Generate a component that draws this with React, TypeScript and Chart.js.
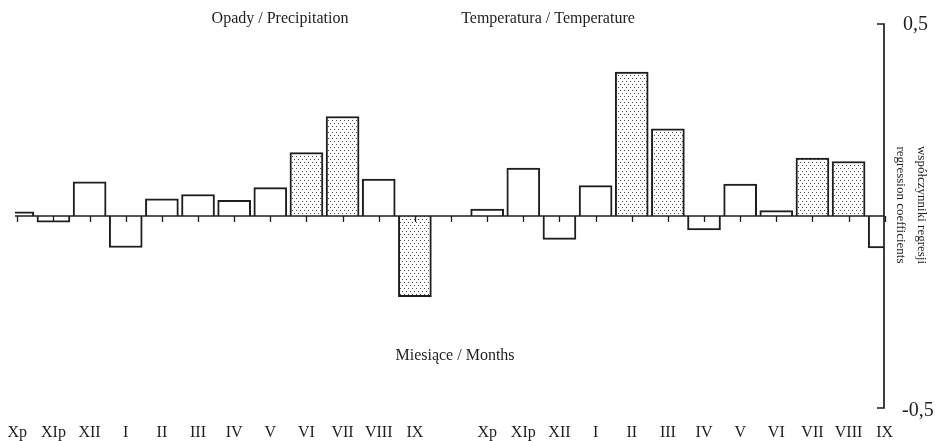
import React, { useEffect, useRef } from 'react';
import { Chart, registerables } from 'chart.js';

Chart.register(...registerables);

// ---- data ----
const months = ['Xp', 'XIp', 'XII', 'I', 'II', 'III', 'IV', 'V', 'VI', 'VII', 'VIII', 'IX'];
const precipValues = [0.011, -0.016, 0.089, -0.082, 0.045, 0.056, 0.041, 0.074, 0.165, 0.259, 0.096, -0.21];
const precipSignificant = [false, false, false, false, false, false, false, false, true, true, false, true];
const tempValues = [0.018, 0.125, -0.061, 0.079, 0.375, 0.227, -0.036, 0.083, 0.014, 0.151, 0.142, -0.083];
const tempSignificant = [false, false, false, false, true, true, false, false, false, true, true, false];
const yTickValues = [0.5, -0.5];
const yTickLabels = ['0,5', '-0,5'];
const groupTitles = ['Opady / Precipitation', 'Temperatura / Temperature'];
const xTitle = 'Miesiące / Months';
const yTitleLines = ['współczynniki regresji', 'regression coefficients'];
const tempOffset = 13; // temperature group starts after one empty slot

const FONT = "'Liberation Serif', 'Times New Roman', serif";
const INK = '#1e1e1e';

function makeStipple(): CanvasPattern | string {
  const c = document.createElement('canvas');
  c.width = 4;
  c.height = 6;
  const g = c.getContext('2d');
  if (!g) return '#ddd';
  g.fillStyle = '#ffffff';
  g.fillRect(0, 0, 4, 6);
  g.fillStyle = '#4a4a4a';
  g.fillRect(0, 0, 1, 1);
  g.fillRect(2, 3, 1, 1);
  const p = g.createPattern(c, 'repeat');
  return p || '#ddd';
}

const decorPlugin = {
  id: 'decor',
  afterDatasetsDraw(chart: any) {
    const { ctx, chartArea, scales } = chart;
    const x = scales.x;
    const y = scales.y;
    const y0 = y.getPixelForValue(0);
    ctx.save();
    ctx.strokeStyle = INK;
    ctx.lineWidth = 1.7;
    // zero line
    ctx.beginPath();
    ctx.moveTo(chartArea.left, y0);
    ctx.lineTo(chartArea.right, y0);
    ctx.stroke();
    // category ticks
    ctx.lineWidth = 1.3;
    for (let k = 0; k < tempOffset + months.length; k++) {
      const px = Math.round(x.getPixelForValue(k)) + 0.5;
      ctx.beginPath();
      ctx.moveTo(px, y0);
      ctx.lineTo(px, y0 + 6);
      ctx.stroke();
    }
    // right axis
    const ax = chartArea.right;
    const top = y.getPixelForValue(yTickValues[0]);
    const bot = y.getPixelForValue(yTickValues[1]);
    ctx.lineWidth = 1.7;
    ctx.beginPath();
    ctx.moveTo(ax - 7, top);
    ctx.lineTo(ax, top);
    ctx.lineTo(ax, bot);
    ctx.lineTo(ax - 7, bot);
    ctx.stroke();

    ctx.fillStyle = INK;
    // y tick labels
    ctx.font = `20px ${FONT}`;
    ctx.textAlign = 'left';
    ctx.textBaseline = 'middle';
    yTickValues.forEach((v, i) => {
      ctx.fillText(yTickLabels[i], ax + (v < 0 ? 18 : 19), y.getPixelForValue(v) + (v < 0 ? 3 : 1));
    });

    // y title (rotated)
    ctx.font = `13px ${FONT}`;
    ctx.textAlign = 'center';
    ctx.textBaseline = 'middle';
    ctx.save();
    ctx.translate(ax + 37, 205);
    ctx.rotate(Math.PI / 2);
    ctx.fillText(yTitleLines[0], 0, 0);
    ctx.fillText(yTitleLines[1], 0, 21);
    ctx.restore();

    // month labels
    ctx.font = `16px ${FONT}`;
    ctx.textAlign = 'center';
    ctx.textBaseline = 'middle';
    months.forEach((m, i) => {
      ctx.fillText(m, x.getPixelForValue(i), 433);
      ctx.fillText(m, x.getPixelForValue(i + tempOffset), 433);
    });

    // group titles and x title
    ctx.font = `16px ${FONT}`;
    ctx.fillText(groupTitles[0], 280, 19);
    ctx.fillText(groupTitles[1], 548, 19);
    ctx.fillText(xTitle, 455, 356);
    ctx.restore();
  },
};

export default function App() {
  const ref = useRef<HTMLCanvasElement | null>(null);

  useEffect(() => {
    if (!ref.current) return;
    const stipple = makeStipple();
    const precipData = precipValues.map((v, i) => ({ x: i, y: v }));
    const tempData = tempValues.map((v, i) => ({ x: i + tempOffset, y: v }));
    const chart = new Chart(ref.current, {
      type: 'bar',
      data: {
        datasets: [
          {
            label: groupTitles[0],
            data: precipData as any,
            backgroundColor: precipSignificant.map((s) => (s ? stipple : '#ffffff')) as any,
            borderColor: INK,
            borderWidth: 2,
            barThickness: 33,
            grouped: false,
          } as any,
          {
            label: groupTitles[1],
            data: tempData as any,
            backgroundColor: tempSignificant.map((s) => (s ? stipple : '#ffffff')) as any,
            borderColor: INK,
            borderWidth: 2,
            barThickness: 33,
            grouped: false,
          } as any,
        ],
      },
      options: {
        animation: false,
        responsive: true,
        maintainAspectRatio: false,
        layout: { padding: { left: 15, right: 55, top: 24, bottom: 33 } },
        plugins: { legend: { display: false }, tooltip: { enabled: false } },
        scales: {
          x: { type: 'linear', min: -0.064, max: 23.98, offset: false, display: false },
          y: { type: 'linear', min: -0.5, max: 0.5, display: false },
        },
      },
      plugins: [decorPlugin],
    });
    return () => chart.destroy();
  }, []);

  return (
    <div style={{ position: 'absolute', left: 0, top: 0, width: 939, height: 441, background: '#fff' }}>
      <canvas ref={ref} />
    </div>
  );
}
